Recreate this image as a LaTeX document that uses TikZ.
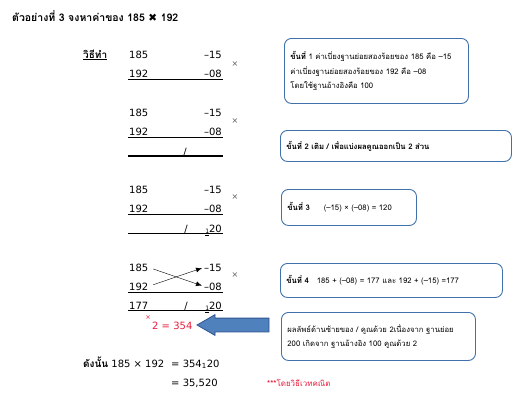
\documentclass[tikz,border=0pt]{standalone}
\usepackage{fontspec}
\setmainfont{DejaVu Sans}
\newfontfamily\thai[Script=Thai]{Loma}
\newfontfamily\symf{DejaVu Sans}
\usepackage{xcolor}
\usepackage{tikz}
\usetikzlibrary{shapes.arrows, arrows.meta}
\definecolor{vedred}{RGB}{232,30,60}
\definecolor{boxblue}{RGB}{65,113,170}
\definecolor{arrowblue}{RGB}{79,129,189}
\definecolor{arrowedge}{RGB}{47,82,143}

\begin{document}
\begin{tikzpicture}[x=1pt,y=-1pt,
  num/.style={font=\fontsize{10}{12}\selectfont, inner sep=0pt},
  lnum/.style={num, anchor=base west},
  rnum/.style={num, anchor=base east},
  times/.style={font=\fontsize{8}{10}\selectfont, text=gray!70!black, inner sep=0pt},
  stepbox/.style={draw=boxblue, line width=0.9pt, rounded corners=7pt, anchor=north west, align=left, inner xsep=6pt, font=\thai\fontsize{7.7}{14.5}\selectfont}]
\useasboundingbox (0,0) rectangle (526,418);

\node[anchor=base west, inner sep=0pt, font=\thai\bfseries\fontsize{10.5}{12}\selectfont] (title) at (12,21) {ตัวอย่างที่ 3 จงหาค่าของ 185 {\symf\bfseries ✖} 192};
\node[anchor=base west, inner sep=0pt, font=\thai\bfseries\fontsize{10}{12}\selectfont] (method) at (83,58) {\underline{วิธีทำ}};

\node[lnum] (a1) at (129,58) {185};
\node[rnum] (b1) at (222,58) {–15};
\node[lnum] (c1) at (129,77) {192};
\node[rnum] (d1) at (222,77) {–08};
\node[times] (x1) at (235,64) {×};
\draw (128,79.5)--(223,79.5);

\node[lnum] (a2) at (129,116) {185};
\node[rnum] (b2) at (222,116) {–15};
\node[lnum] (c2) at (129,135) {192};
\node[rnum] (d2) at (222,135) {–08};
\node[times] (x2) at (235,121) {×};
\draw (128,137.5)--(223,137.5);
\node[num] (s2) at (185,152) {/};
\draw[line width=1.6pt] (128,156)--(223,156);

\node[lnum] (a3) at (129,193) {185};
\node[rnum] (b3) at (222,193) {–15};
\node[lnum] (c3) at (129,212) {192};
\node[rnum] (d3) at (222,212) {–08};
\node[times] (x3) at (235,197) {×};
\draw (128,214.5)--(223,214.5);
\node[num] (s3) at (186,229) {/};
\node[rnum] (r3) at (222,232) {\raisebox{-1.5pt}{\fontsize{6}{6}\selectfont\underline{1}}20};
\draw[line width=1.6pt] (128,233.5)--(223,233.5);

\node[lnum] (a4) at (129,271) {185};
\node[rnum] (b4) at (222,271) {–15};
\node[lnum] (c4) at (129,290) {192};
\node[rnum] (d4) at (222,290) {–08};
\node[times] (x4) at (235,275) {×};
\draw (128,292.5)--(223,292.5);
\draw[-{Latex[length=6pt,width=5pt]}, shorten <=5pt, shorten >=2pt] (a4.east)--(d4.west);
\draw[-{Latex[length=6pt,width=5pt]}, shorten <=5pt, shorten >=2pt] (c4.east)--(b4.west);
\node[lnum] (e4) at (129,309) {177};
\node[num] (s4) at (186,306) {/};
\node[rnum] (r4) at (222,309) {\raisebox{-1.5pt}{\fontsize{6}{6}\selectfont\underline{1}}20};
\draw[line width=1.6pt] (128,310.5)--(223,310.5);

\node[text=vedred, font=\fontsize{6.5}{7}\selectfont, inner sep=0pt] (redx) at (148,318) {×};
\node[anchor=base west, text=vedred, font=\fontsize{10}{12}\selectfont, inner sep=0pt] (double) at (152,329) {2 = 354};
\node[single arrow, shape border rotate=180, draw=arrowedge, fill=arrowblue, line width=0.8pt, minimum height=72pt, minimum width=20pt, single arrow head extend=3.5pt, single arrow tip angle=60, inner xsep=0pt, inner ysep=6.5pt] (back) at (239,325) {};

\node[stepbox, text width=172pt, minimum height=65pt] (step1) at (284,38) {{\bfseries ขั้นที่} 1 ค่าเบี่ยงฐานย่อยสองร้อยของ 185 คือ –15\\ค่าเบี่ยงฐานย่อยสองร้อยของ 192 คือ –08\\โดยใช้ฐานอ้างอิงคือ 100};
\node[stepbox, text width=219pt, minimum height=31pt] (step2) at (280,130) {\bfseries ขั้นที่ 2 เติม / เพื่อแบ่งผลคูณออกเป็น 2 ส่วน};
\node[stepbox, text width=123pt, minimum height=36pt] (step3) at (281,189) {{\bfseries ขั้นที่ 3}\hspace{14pt}(–15) × (–08) = 120};
\node[stepbox, text width=210pt, minimum height=34pt] (step4) at (280,263) {{\bfseries ขั้นที่ 4}\hspace{8pt}185 + (–08) = 177 และ 192 + (–15) =177};
\node[stepbox, text width=182pt, minimum height=48pt] (step5) at (281,312) {ผลลัพธ์ด้านซ้ายของ / คูณด้วย 2เนื่องจาก ฐานย่อย\\200 เกิดจาก ฐานอ้างอิง 100 คูณด้วย 2};

\node[anchor=base west, inner sep=0pt, font=\fontsize{10}{12}\selectfont] (therefore) at (83,367) {{\thai\bfseries ดังนั้น} 185 × 192};
\node[anchor=base west, inner sep=0pt, font=\fontsize{10}{12}\selectfont] (eq1) at (171,367) {= 354\textsubscript{1}20};
\node[anchor=base west, inner sep=0pt, font=\fontsize{10}{12}\selectfont] (eq2) at (171,386) {= 35,520};
\node[anchor=base west, inner sep=0pt, text=vedred, font=\thai\fontsize{8}{9}\selectfont] (note) at (267,386) {\bfseries ***\mdseries โดยวิธีเวทคณิต};
\end{tikzpicture}
\end{document}
